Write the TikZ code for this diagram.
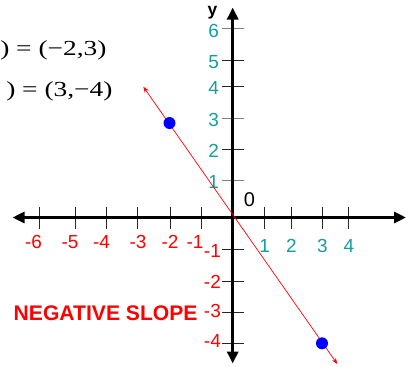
\documentclass[tikz,border=0pt]{standalone}
\usepackage{fontspec}
\setmainfont{Liberation Sans}
\newfontfamily\serifx{Liberation Serif}
\usetikzlibrary{arrows.meta}
\definecolor{tealx}{RGB}{22,158,158}
\begin{document}
\begin{tikzpicture}[x=1bp,y=-1bp,
  lab/.style={font=\fontsize{19}{19}\selectfont, inner sep=0pt},
  poslab/.style={lab, text=tealx},
  neglab/.style={lab, text=red},
  axis/.style={line width=3.5bp, {Triangle[length=12bp,width=11bp]}-{Triangle[length=12bp,width=11bp]}},
  tickd/.style={line width=1bp, draw=black!85},
  tickg/.style={line width=1bp, draw=black!50},
  dot/.style={circle, fill=blue, inner sep=0pt, minimum size=12bp},
  slopeline/.style={red, line width=0.7bp, {Stealth[length=6bp,width=4.5bp]}-{Stealth[length=6bp,width=4.5bp]}},
  eqtext/.style={font=\serifx\fontsize{21.5}{21.5}\selectfont, inner sep=0pt, xscale=1.28, anchor=base west}]
\useasboundingbox (0,0) rectangle (409,367);
\fill[white] (0,0) rectangle (409,367);

% top-left equations
\node[eqtext] (eq1) at (0,55) {) = (−2,3)};
\node[eqtext] (eq2) at (6,96.5) {) = (3,−4)};

% axes
\coordinate (xl) at (12.5,217.5);
\coordinate (xr) at (406,217.5);
\coordinate (yt) at (232.7,7.5);
\coordinate (yb) at (232.7,363.5);

% x ticks
\foreach \x in {39,75.5,106.5,137.5,170,201,264,291,322,348.5}
  \draw[tickd] (\x,206.5) -- (\x,228.5);
% y ticks
\foreach \y/\s in {28.5/tickg,60.5/tickd,86.5/tickd,118/tickg,149.5/tickd,180.5/tickg,249/tickd,281/tickd,312/tickd,343.5/tickd}
  \draw[\s] (222,\y) -- (244,\y);

\draw[axis] (xl) -- (xr);
\draw[axis] (yb) -- (yt);

% x labels
\foreach \t/\x [count=\i] in {-6/33.5,-5/70,-4/101.5,-3/138,-2/170,-1/195}
  \node[neglab, anchor=base] (xn\i) at (\x,248.5) {\t};
\foreach \t/\x in {1/264.7,2/291.3,3/322.5,4/349}
  \node[poslab, anchor=base] (xp\t) at (\x,252) {\t};

% y labels
\foreach \t/\y in {6/37,5/68.5,4/94,3/126.5,2/157.5,1/188.5}
  \node[poslab, anchor=base east] (yp\t) at (219,\y) {\t};
\foreach \t/\y [count=\i] in {-1/257.5,-2/288.5,-3/317,-4/347.5}
  \node[neglab, anchor=base east] (yn\i) at (221,\y) {\t};

\node[font=\fontsize{20}{20}\selectfont, inner sep=0pt, anchor=base] (zero) at (249.5,206) {0};
\node[font=\bfseries\fontsize{17.5}{17.5}\selectfont, inner sep=0pt, anchor=base] (ylab) at (212.5,15.5) {y};

\node[font=\bfseries\fontsize{21.2}{21.2}\selectfont, text=red, inner sep=0pt, anchor=base west] (title) at (13.5,320) {NEGATIVE SLOPE};

% slope line and points
\coordinate (la) at (143.3,86.7);
\coordinate (lb) at (337.3,364);
\draw[slopeline] (la) -- (lb);
\node[dot] (p1) at (169.5,123) {};
\node[dot] (p2) at (322,343.3) {};
\end{tikzpicture}
\end{document}
